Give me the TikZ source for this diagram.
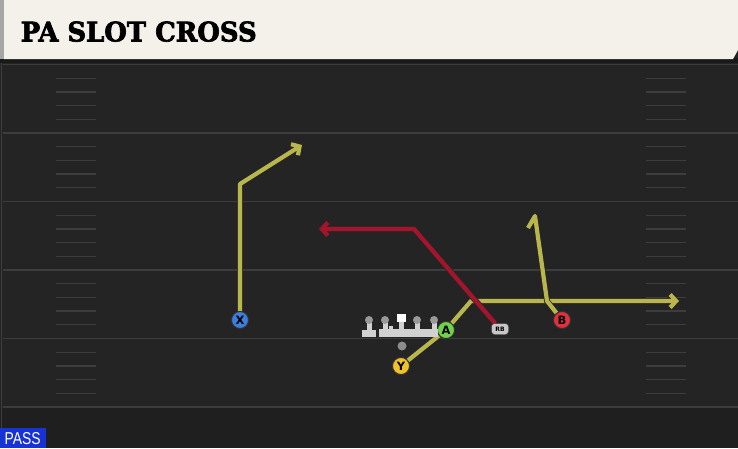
\documentclass[tikz,border=0pt]{standalone}
\usepackage{fontspec}
\usepackage{graphicx}
\usepackage{tikz}
\usetikzlibrary{arrows.meta,calc}
\newfontfamily\titlefont{DejaVu Serif}[BoldFeatures={FakeBold=2.5}]
\newfontfamily\playerfont{DejaVu Sans}
\newfontfamily\tagfont{Liberation Sans}

\definecolor{fieldbg}{HTML}{242424}
\definecolor{fieldend}{HTML}{1F1F1F}
\definecolor{fieldline}{HTML}{3D3D3D}
\definecolor{headbg}{HTML}{F4F1EA}
\definecolor{routeyel}{HTML}{B8B64C}
\definecolor{routered}{HTML}{A5142D}
\definecolor{xblue}{HTML}{3D7EDC}
\definecolor{agreen}{HTML}{6FD44C}
\definecolor{yyellow}{HTML}{F0C22A}
\definecolor{bred}{HTML}{E2303F}
\definecolor{passblue}{HTML}{1733D6}

\pgfdeclarelayer{field}
\pgfdeclarelayer{routes}
\pgfsetlayers{field,routes,main}

\tikzset{
  route/.style={draw=routeyel, line width=4.2, line join=round,
    preaction={draw=black!85, line width=5.8}},
  redroute/.style={route, draw=routered},
  player/.style={circle, draw=black!80, line width=0.9, minimum size=17,
    inner sep=0, font=\playerfont\bfseries\fontsize{11.5}{11.5}\selectfont},
  yardline/.style={draw=fieldline, line width=1.5},
  hash/.style={draw=fieldline, line width=1.3},
  tip/.style={-{Straight Barb[length=6pt,width=13pt]}}
}

\begin{document}
\begin{tikzpicture}[x=1pt,y=-1pt]
  \useasboundingbox (0,0) rectangle (738,448);

  \begin{pgfonlayer}{field}
  % field
  \fill[fieldbg] (0,0) rectangle (738,448);
  \fill[fieldend] (0,408) rectangle (738,448);
  \draw[fieldline, line width=1.5] (1.5,60) -- (1.5,448);

  % yard lines and hash marks
  \foreach \i in {0,...,5}
    \draw[yardline] (3,64.5+68.5*\i) -- (738,64.5+68.5*\i);
  \foreach \i in {0,...,4}
    \foreach \k in {1,...,4} {
      \draw[hash] (56,{64.5+68.5*\i+13.7*\k}) -- (96,{64.5+68.5*\i+13.7*\k});
      \draw[hash] (646,{64.5+68.5*\i+13.7*\k}) -- (686,{64.5+68.5*\i+13.7*\k});
    }

  % header
  \fill[black!90] (0,58) rectangle (738,63);
  \fill[gray!70] (0,0) rectangle (4,59);
  \fill[headbg] (4,0) -- (738,0) -- (738,50) -- (733,59) -- (4,59) -- cycle;
  \end{pgfonlayer}
  \node[anchor=south west, inner sep=0] (title) at (20.5,42)
    {\resizebox{236pt}{20pt}{\titlefont\bfseries PA SLOT CROSS}};

  % players
  \node[player, fill=xblue] (X) at (240,320) {X};
  \node[player, fill=yyellow] (Y) at (401,366) {Y};
  \node[player, fill=agreen] (A) at (446,330) {A};
  \node[player, fill=bred] (B) at (562,320) {B};
  \node[draw=black!80, fill=black!22, rounded corners=3, minimum width=17,
    minimum height=11, inner sep=0, font=\playerfont\bfseries\fontsize{6}{6}\selectfont]
    (RB) at (500,329) {RB};
  \node[circle, fill=black!45, minimum size=9, inner sep=0] (QB) at (402,346) {};

  % route corners
  \coordinate (xbreak) at (240,184);
  \coordinate (xend) at (302,145);
  \coordinate (acorner) at (471,301);
  \coordinate (aend) at (679,301);
  \coordinate (bcorner) at (547,301);
  \coordinate (btip) at (535,216);
  \coordinate (bhook) at (528,228);
  \coordinate (rbcorner) at (414,229);
  \coordinate (rbend) at (319,229);

  % routes
  \begin{pgfonlayer}{routes}
  \draw[route, tip] (X) -- (xbreak) -- (xend);
  \draw[route] (Y) -- (A);
  \draw[route, tip] (A) -- (acorner) -- (aend);
  \draw[route] (B) -- (bcorner) -- (btip) -- (bhook);
  \draw[redroute, tip] (RB) -- (rbcorner) -- (rbend);
  \end{pgfonlayer}

  % offensive line
  \fill[black!18] (362,330) rectangle (376,337);
  \fill[black!18] (379,329) rectangle (438,336.5);
  \foreach \lx in {369,385,417,434} {
    \fill[black!18] (\lx-2.5,321) rectangle (\lx+2.5,331);
    \fill[black!40] (\lx,320) circle (4);
  }
  \fill[black!18] (389,326) rectangle (393,337);
  \fill[black!18] (399,320) rectangle (404,331);
  \fill[white] (397,314) rectangle (405.5,322);

  % play type
  \fill[passblue] (0,428) rectangle (46,448);
  \node[anchor=south west, inner sep=0, text=white] (tag) at (4.5,445)
    {\resizebox{36pt}{12pt}{\tagfont PASS}};
\end{tikzpicture}
\end{document}
